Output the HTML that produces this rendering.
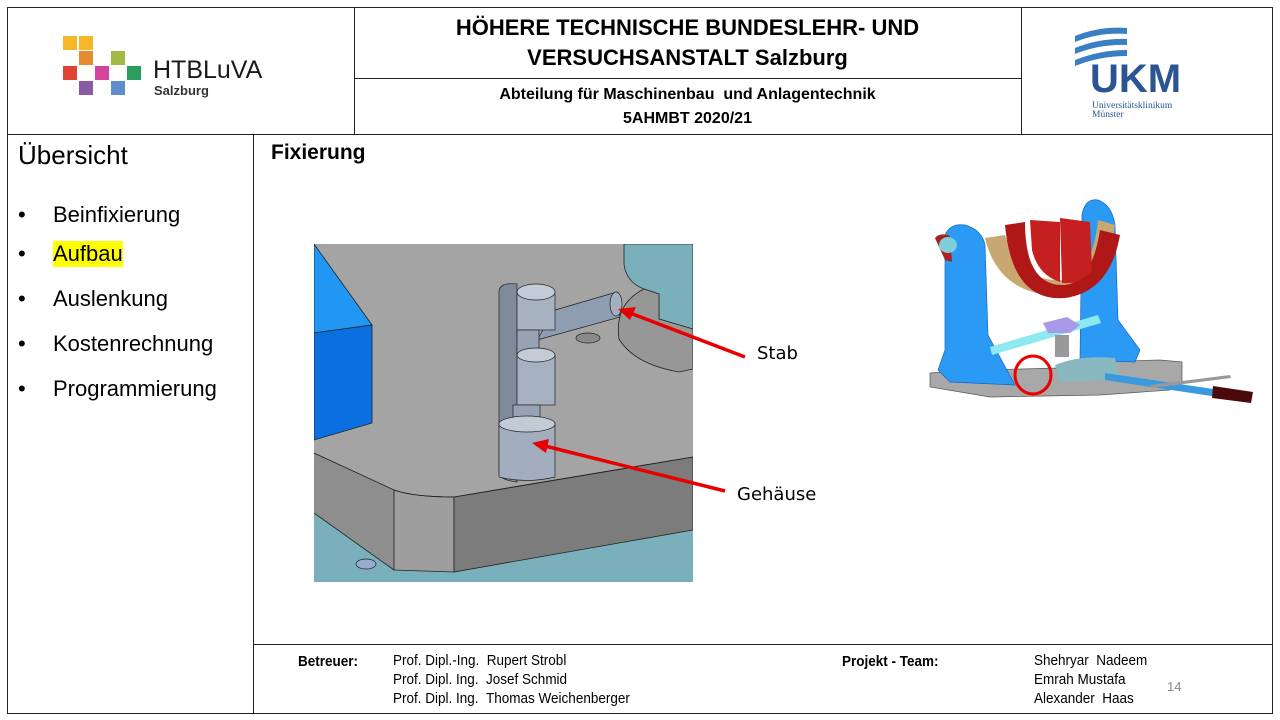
<!DOCTYPE html>
<html><head><meta charset="utf-8"><style>
*{margin:0;padding:0}
body{width:1280px;height:720px;background:#fff;position:relative;overflow:hidden;font-family:"Liberation Sans",sans-serif;color:#000}
.a{position:absolute}
.l{position:absolute;background:#222}
.sq{position:absolute;width:14px;height:14px}
.ft{font-size:15px;line-height:19px;position:absolute;transform:scaleX(0.9);transform-origin:left top;white-space:nowrap}
</style></head><body>
<div class="l" style="left:7px;top:7px;width:1266px;height:1px"></div>
<div class="l" style="left:7px;top:713px;width:1266px;height:1px"></div>
<div class="l" style="left:7px;top:7px;width:1px;height:707px"></div>
<div class="l" style="left:1272px;top:7px;width:1px;height:707px"></div>
<div class="l" style="left:7px;top:134px;width:1266px;height:1px"></div>
<div class="l" style="left:354px;top:7px;width:1px;height:127px"></div>
<div class="l" style="left:1021px;top:7px;width:1px;height:127px"></div>
<div class="l" style="left:354px;top:78px;width:667px;height:1px"></div>
<div class="l" style="left:253px;top:134px;width:1px;height:580px"></div>
<div class="l" style="left:253px;top:644px;width:1020px;height:1px"></div>

<div class="sq" style="left:63px;top:36px;background:#f7b52a"></div>
<div class="sq" style="left:79px;top:36px;background:#f7b52a"></div>
<div class="sq" style="left:79px;top:51px;background:#e48a2f"></div>
<div class="sq" style="left:111px;top:51px;background:#a4b944"></div>
<div class="sq" style="left:63px;top:66px;background:#de4535"></div>
<div class="sq" style="left:95px;top:66px;background:#d4449a"></div>
<div class="sq" style="left:127px;top:66px;background:#2a9c5e"></div>
<div class="sq" style="left:79px;top:81px;background:#8a5aa4"></div>
<div class="sq" style="left:111px;top:81px;background:#5e8ccc"></div>
<div class="a" style="left:153px;top:56px;font-size:25px;color:#1a1a1a">HTBLuVA</div>
<div class="a" style="left:154px;top:83px;font-size:13px;font-weight:bold;color:#333">Salzburg</div>

<div class="a" style="left:354px;top:13px;width:667px;text-align:center;font-size:22px;font-weight:bold;line-height:30px">HÖHERE TECHNISCHE BUNDESLEHR- UND<br>VERSUCHSANSTALT Salzburg</div>
<div class="a" style="left:354px;top:83px;width:667px;text-align:center;font-size:16px;font-weight:bold;line-height:24px">Abteilung für Maschinenbau &nbsp;und Anlagentechnik<br>5AHMBT 2020/21</div>

<svg class="a" style="left:1070px;top:22px" width="140" height="100">
<path d="M5 14 Q30 4 57 6 L57 12 Q30 10 5 20Z" fill="#3a7fc4"/>
<path d="M5 26 Q30 16 57 17 L57 23 Q30 22 5 32Z" fill="#3a7fc4"/>
<path d="M5 38 Q30 28 57 28 L57 34 Q30 34 5 44Z" fill="#3a7fc4"/>
<text x="20" y="70" font-family="Liberation Sans" font-size="40" font-weight="bold" fill="#2a5592">UKM</text>
<text x="22" y="86" font-family="Liberation Serif" font-size="9.5" fill="#2a5592">Universitätsklinikum</text>
<text x="22" y="95" font-family="Liberation Serif" font-size="9.5" fill="#2a5592">Münster</text>
</svg>

<div class="a" style="left:18px;top:140px;font-size:26px;line-height:30px">Übersicht</div>
<div class="a" style="left:18px;top:202px;font-size:22px;line-height:26px">
<div style="position:absolute;top:0">•</div><div style="position:absolute;left:35px;top:0;white-space:nowrap">Beinfixierung</div>
<div style="position:absolute;top:39px">•</div><div style="position:absolute;left:35px;top:39px;background:#ff0;white-space:nowrap">Aufbau</div>
<div style="position:absolute;top:84px">•</div><div style="position:absolute;left:35px;top:84px;white-space:nowrap">Auslenkung</div>
<div style="position:absolute;top:129px">•</div><div style="position:absolute;left:35px;top:129px;white-space:nowrap">Kostenrechnung</div>
<div style="position:absolute;top:174px">•</div><div style="position:absolute;left:35px;top:174px;white-space:nowrap">Programmierung</div>
</div>

<div class="a" style="left:271px;top:141px;font-size:21px;font-weight:bold">Fixierung</div>

<svg class="a" style="left:314px;top:244px" width="379" height="338" viewBox="0 0 379 338">
<rect width="379" height="338" fill="#79b0bb"/>
<path d="M0 0 H310 V20 Q312 38 330 45 L379 60 V213 L140 253 Q100 253 80 246 L0 209Z" fill="#a4a4a4"/>
<path d="M0 209 L80 246 L80 326 L0 269Z" fill="#8e8e8e"/>
<path d="M80 246 Q100 253 140 253 L140 328 L80 326Z" fill="#9e9e9e" stroke="#222" stroke-width="0.8"/>
<path d="M140 253 L379 213 V286 L140 328Z" fill="#7c7c7c" stroke="#222" stroke-width="0.8"/>
<path d="M0 209 L80 246 Q100 253 140 253 L379 213" fill="none" stroke="#222" stroke-width="0.8"/>
<path d="M0 269 L80 326" stroke="#222" stroke-width="0.8"/>
<path d="M310 0 V20 Q312 38 330 45 L345 50 L345 75 L379 85 V0Z" fill="#79b0bb" stroke="#222" stroke-width="0.8"/>
<path d="M330 45 Q300 60 305 95 Q320 120 365 128 L379 125 V85 L345 75 L345 50Z" fill="#979797" stroke="#222" stroke-width="0.8"/>
<path d="M0 0 L58 81 L0 89Z" fill="#2196f3" stroke="#222" stroke-width="0.8"/>
<path d="M0 89 L58 81 L58 179 L0 196Z" fill="#0a70e0" stroke="#222" stroke-width="0.8"/>
<ellipse cx="274" cy="94" rx="12" ry="5" fill="#8a8a8a" stroke="#222" stroke-width="0.7"/>
<ellipse cx="52" cy="320" rx="10" ry="5" fill="#9ac" stroke="#222" stroke-width="0.7"/>
<path d="M241 66 L303 48 L306 73 L223 96Z" fill="#8e9db0" stroke="#222" stroke-width="0.7"/>
<ellipse cx="302" cy="60" rx="6" ry="12" fill="#a3afc0" stroke="#222" stroke-width="0.7"/>
<path d="M185 48 Q185 38 203 40 L203 238 Q185 236 185 228Z" fill="#7f8b9a" stroke="#222" stroke-width="0.7"/>
<rect x="203" y="50" width="38" height="36" fill="#a8b3c2" stroke="#222" stroke-width="0.7"/>
<ellipse cx="222" cy="48" rx="19" ry="8" fill="#c2cbd6" stroke="#222" stroke-width="0.7"/>
<rect x="203" y="86" width="22" height="25" fill="#97a3b4" stroke="#222" stroke-width="0.7"/>
<rect x="203" y="111" width="38" height="50" fill="#a5b0c0" stroke="#222" stroke-width="0.7"/>
<ellipse cx="222" cy="111" rx="19" ry="7" fill="#c2cbd6" stroke="#222" stroke-width="0.7"/>
<rect x="199" y="161" width="27" height="18" fill="#97a3b4" stroke="#222" stroke-width="0.7"/>
<path d="M185 179 H241 V233 Q213 240 185 233Z" fill="#a2adbd" stroke="#222" stroke-width="0.7"/>
<ellipse cx="213" cy="180" rx="28" ry="8" fill="#c2cbd6" stroke="#222" stroke-width="0.7"/>
</svg>

<svg class="a" style="left:0;top:0" width="1280" height="720">
<line x1="745" y1="357" x2="630" y2="313" stroke="#e80000" stroke-width="3.5"/>
<polygon points="618,309 636,307 630,320" fill="#e80000"/>
<line x1="725" y1="491" x2="545" y2="446" stroke="#e80000" stroke-width="3.5"/>
<polygon points="532,443 549,439 546,453" fill="#e80000"/>
</svg>
<div class="a" style="left:757px;top:343px;font-family:'DejaVu Sans',sans-serif;font-size:18px">Stab</div>
<div class="a" style="left:737px;top:484px;font-family:'DejaVu Sans',sans-serif;font-size:18px">Gehäuse</div>

<svg class="a" style="left:920px;top:190px" width="350" height="230" viewBox="0 0 350 230">
<path d="M10 183 L10 197 L70 207 L180 205 L250 200 L262 192 L262 172 L240 170 L165 172 L140 178 L60 180Z" fill="#a8a8a8" stroke="#555" stroke-width="0.7"/>
<path d="M160 170 L162 25 Q165 8 178 10 Q192 15 195 35 L198 130 L220 160 L215 172Z" fill="#2a9af5" stroke="#1565c0" stroke-width="0.7"/>
<path d="M25 45 Q30 33 45 35 Q62 40 65 55 L68 145 L95 195 L30 192 L18 180 L25 160Z" fill="#2a9af5" stroke="#1565c0" stroke-width="0.7"/>
<path d="M15 48 Q20 42 30 46 L32 72 L25 70Z" fill="#a82020"/>
<path d="M65 48 Q80 110 150 105 Q185 100 195 35 L178 30 Q172 88 140 90 Q100 92 85 45Z" fill="#c8a870"/>
<path d="M85 35 Q92 112 145 108 Q190 102 200 45 L180 40 Q172 92 145 95 Q105 97 105 32Z" fill="#b01818"/>
<path d="M110 30 L140 32 L140 92 Q118 85 112 60Z" fill="#c42020"/>
<path d="M140 28 L170 32 L172 80 Q160 95 142 93Z" fill="#c42020"/>
<path d="M70 157 L178 125 L181 133 L72 165Z" fill="#8ee8f0"/>
<path d="M123 133 L147 127 L160 135 L150 143 L128 143Z" fill="#a89ae8"/>
<rect x="135" y="145" width="14" height="22" fill="#999"/>
<path d="M135 175 Q160 165 195 168 L200 190 L140 192Z" fill="#8ab8c0"/>
<path d="M185 183 L300 200 L298 207 L185 190Z" fill="#3a9ae0"/>
<path d="M230 195 L310 185 L311 188 L232 198Z" fill="#999"/>
<path d="M293 196 L333 202 L331 213 L292 208Z" fill="#4a0a0a"/>
<ellipse cx="28" cy="55" rx="9" ry="8" fill="#7fcfd8"/>
<ellipse cx="113" cy="185" rx="18" ry="19" fill="none" stroke="#e00" stroke-width="3"/>
</svg>

<div class="ft" style="left:298px;top:652px;font-weight:bold">Betreuer:</div>
<div class="ft" style="left:393px;top:651px">Prof. Dipl.-Ing. &nbsp;Rupert Strobl<br>Prof. Dipl. Ing. &nbsp;Josef Schmid<br>Prof. Dipl. Ing. &nbsp;Thomas Weichenberger</div>
<div class="ft" style="left:842px;top:652px;font-weight:bold">Projekt - Team:</div>
<div class="ft" style="left:1034px;top:651px">Shehryar &nbsp;Nadeem<br>Emrah Mustafa<br>Alexander &nbsp;Haas</div>
<div class="a" style="left:1167px;top:679px;font-size:13px;color:#888">14</div>
</body></html>
